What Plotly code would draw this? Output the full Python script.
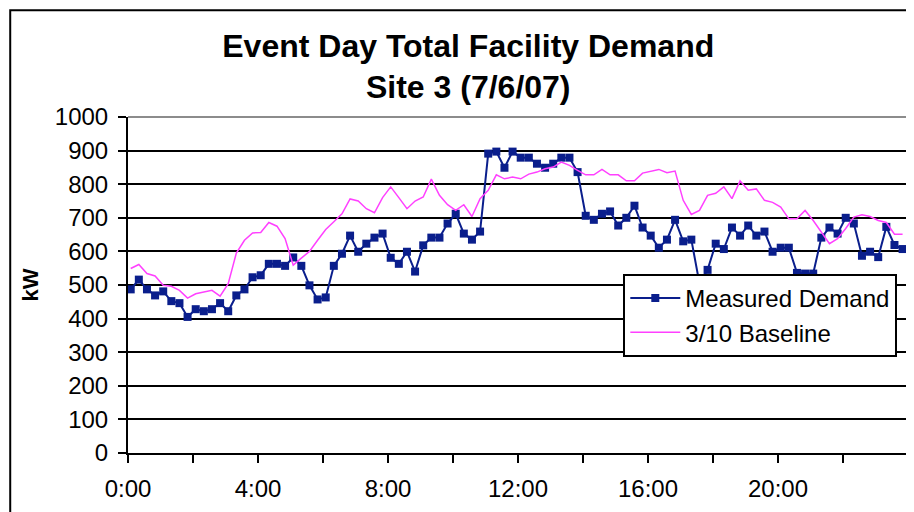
import plotly.graph_objects as go

# 15-minute interval data, first sample just after midnight
times = [(5 + 15 * i) / 60 for i in range(96)]

measured = [
    487, 516, 487, 469, 481, 452, 446, 405, 428, 422, 428, 446,
    422, 469, 487, 523, 529, 563, 563, 557, 582, 557, 499, 457,
    463, 557, 593, 647, 599, 623, 641, 653, 581, 563, 599, 540,
    618, 641, 641, 683, 712, 653, 635, 659, 891, 897, 849, 897,
    879, 879, 861, 849, 861, 879, 879, 836, 706, 694, 712, 719,
    677, 700, 736, 671, 647, 611, 635, 694, 630, 635, 505, 545,
    623, 607, 671, 647, 677, 647, 659, 599, 611, 611, 536, 534,
    534, 641, 671, 653, 700, 683, 587, 599, 583, 673, 619, 607,
]

baseline = [
    549, 561, 534, 527, 499, 496, 484, 461, 474, 479, 484, 467,
    504, 595, 633, 655, 656, 686, 675, 638, 559, 580, 600, 633,
    665, 688, 712, 756, 750, 727, 715, 760, 792, 760, 727, 750,
    762, 815, 767, 739, 722, 739, 704, 757, 782, 828, 816, 821,
    816, 830, 836, 846, 851, 866, 856, 841, 828, 828, 844, 828,
    828, 810, 810, 833, 839, 844, 834, 839, 752, 710, 722, 767,
    773, 792, 757, 810, 782, 786, 752, 746, 732, 697, 697, 722,
    692, 658, 623, 638, 668, 702, 709, 704, 692, 686, 651, 651,
]

x_tickvals = list(range(0, 25, 2))
x_ticktext = ["0:00", "", "4:00", "", "8:00", "", "12:00", "", "16:00", "", "20:00", "", ""]
y_tickvals = list(range(0, 1001, 100))

FONT = "Liberation Sans, Arial, sans-serif"

fig = go.Figure()

fig.add_trace(go.Scatter(
    x=times, y=measured,
    name="Measured Demand",
    mode="lines+markers",
    line=dict(color="#0a1e8c", width=2),
    marker=dict(symbol="square", size=8, color="#0a1e8c"),
))

fig.add_trace(go.Scatter(
    x=times, y=baseline,
    name="3/10 Baseline",
    mode="lines",
    line=dict(color="#ff40ff", width=1.5),
))

# outer chart border (runs off the right and bottom of the picture)
fig.add_shape(type="rect", xref="paper", yref="paper",
              x0=-0.151, x1=1.2, y0=-0.6, y1=1.318,
              line=dict(color="black", width=2), layer="below")
# gray plot-area border on top and right
fig.add_shape(type="line", xref="paper", yref="paper", x0=0, x1=1, y0=1, y1=1,
              line=dict(color="#8c8c8c", width=2), layer="above")
fig.add_shape(type="line", xref="paper", yref="paper", x0=1, x1=1, y0=0, y1=1,
              line=dict(color="#8c8c8c", width=2), layer="above")

# page body adds an 8px offset, so the figure is 8px smaller than the window
fig.update_layout(
    width=906,
    height=504,
    margin=dict(l=120, r=6, t=109, b=59, autoexpand=False),
    plot_bgcolor="white",
    paper_bgcolor="white",
    font=dict(family=FONT, color="black"),
    title=dict(
        text="<b>Event Day Total Facility Demand<br>Site 3 (7/6/07)</b>",
        font=dict(size=32, family=FONT),
        x=0.508, xanchor="center",
        y=0.903, yanchor="middle",
    ),
    legend=dict(
        x=0.635, y=0.533, xanchor="left", yanchor="top",
        bgcolor="white", bordercolor="black", borderwidth=2,
        font=dict(size=24, family=FONT),
        itemwidth=50,
    ),
    showlegend=True,
)

fig.update_xaxes(
    range=[0, 24],
    tickvals=x_tickvals, ticktext=x_ticktext,
    ticks="outside", ticklen=8, tickwidth=1.5, tickcolor="black",
    ticklabelstandoff=5,
    showline=True, linecolor="black", linewidth=2,
    showgrid=False, zeroline=False, automargin=False,
    tickfont=dict(size=24),
)
fig.update_yaxes(
    range=[0, 1000],
    tickvals=y_tickvals,
    ticksuffix="\u00a0",
    ticks="outside", ticklen=8, tickwidth=1.5, tickcolor="black",
    ticklabelstandoff=5,
    showline=True, linecolor="black", linewidth=2,
    showgrid=True, gridcolor="black", gridwidth=1.5,
    zeroline=False, automargin=False,
    tickfont=dict(size=24),
    title=dict(text="<b>kW</b>", font=dict(size=22), standoff=10),
)

fig.write_html("out.html")
